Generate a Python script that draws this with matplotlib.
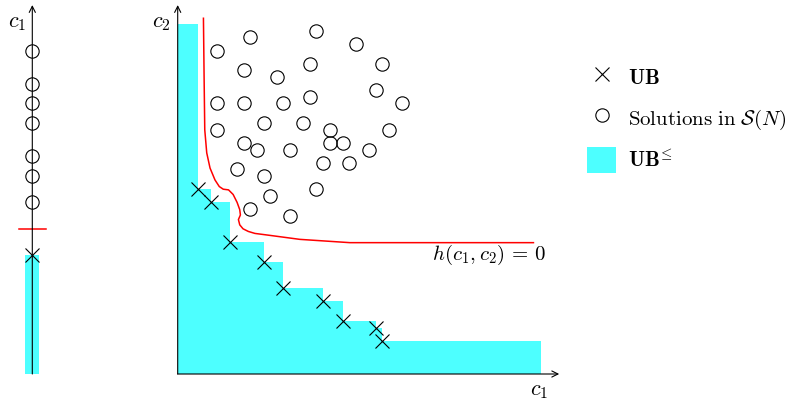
import matplotlib
matplotlib.use("Agg")
import matplotlib.pyplot as plt
from matplotlib.lines import Line2D
from matplotlib.patches import Patch

plt.rcParams.update({
    "mathtext.fontset": "cm",
    "font.family": "serif",
    "font.serif": ["DejaVu Serif"],
})

# ── data (diagram units) ─────────────────────────────────────────────────────
# solutions in S(N), 2-D view
sol_c1 = [6, 11, 21, 27, 10, 20, 31, 15, 30, 6, 10, 16, 20, 34, 13, 19,
          6, 23, 32, 10, 23, 25, 12, 17, 29, 22, 26, 9, 13, 21, 14, 11, 17]
sol_c2 = [49, 51, 52, 50, 46, 47, 47, 45, 43, 41, 41, 41, 42, 41, 38, 38,
          37, 37, 37, 35, 35, 35, 34, 34, 34, 32, 32, 31, 30, 28, 27, 25, 24]
# upper bound set UB
ub_c1 = [3, 5, 8, 13, 16, 22, 25, 30, 31]
ub_c2 = [28, 26, 20, 17, 13, 11, 8, 7, 5]
c1_end = 55
c2_end = 53
# level curve h(c1, c2) = 0
h_c1 = [3.9, 4.0, 4.1, 4.4, 4.9, 5.65, 6.3, 6.9, 7.7, 8.4, 9.0, 9.4, 9.5,
        9.2, 9.4, 9.9, 10.7, 11.7, 14.0, 18.5, 26.1, 31.2, 53.9]
h_c2 = [53.9, 45.0, 37.0, 33.5, 31.2, 29.4, 28.4, 28.0, 27.9, 27.2, 26.0,
        24.9, 24.1, 23.4, 22.6, 22.0, 21.6, 21.3, 21.0, 20.4, 19.9, 19.9, 19.9]
# 1-D view
line_sol = [49, 44, 41, 38, 33, 30, 26]
line_ub = 18
line_h = 22

# ── style ────────────────────────────────────────────────────────────────────
CYAN = "#4dffff"
RED = "#ff0000"
W, H = 791, 401
PX = 6.6                 # pixels per diagram unit
ORIG_Y = 374             # pixel row of c = 0

fig = plt.figure(figsize=(W / 100, H / 100), dpi=100)


def make_axes(left_px, right_px, origin_x):
    ax = fig.add_axes([left_px / W, 0, (right_px - left_px) / W, 1])
    ax.set_xlim((left_px - origin_x) / PX, (right_px - origin_x) / PX)
    ax.set_ylim((ORIG_Y - H) / PX, ORIG_Y / PX)
    ax.axis("off")
    return ax


ax_l = make_axes(0, 70, 32.3)
ax = make_axes(150, 570, 177.7)

arrow = dict(arrowstyle="->", lw=0.8, color="black", mutation_scale=11,
             shrinkA=0, shrinkB=0)
mk = dict(ls="none", color="black", mfc="none", ms=9.6, mew=0.8, clip_on=False)

# ── 1-D panel ────────────────────────────────────────────────────────────────
ax_l.fill_between([-1.06, 1.06], 0, line_ub, color=CYAN, lw=0)
ax_l.annotate("", xy=(0, 55.9), xytext=(0, 0), arrowprops=arrow)
ax_l.plot([-2.05, 2.05], [line_h, line_h], color=RED, lw=1.1)
ax_l.plot([0] * len(line_sol), line_sol, marker="o", **mk)
ax_l.plot([0], [line_ub], marker="x", **mk)
ax_l.text(-2.3, 53.4, r"$c_1$", fontsize=16, ha="center", va="center")

# ── 2-D panel ────────────────────────────────────────────────────────────────
xs = [0] + ub_c1 + [c1_end]
tops = [c2_end] + ub_c2 + [ub_c2[-1]]
ax.fill_between(xs, 0, tops, step="post", color=CYAN, lw=0)
ax.annotate("", xy=(57.8, 0), xytext=(0, 0), arrowprops=arrow)
ax.annotate("", xy=(0, 55.9), xytext=(0, 0), arrowprops=arrow)
ax.plot(h_c1, h_c2, color=RED, lw=1.1)
ax.plot(sol_c1, sol_c2, marker="o", **mk)
ax.plot(ub_c1, ub_c2, marker="x", **mk)
ax.text(-1.0, 53.3, r"$c_2$", fontsize=16, ha="right", va="center")
ax.text(54.8, -2.4, r"$c_1$", fontsize=16, ha="center", va="center")
ax.text(47.2, 18.0, r"$h(c_1,c_2)\,=\,0$", fontsize=15, ha="center", va="center")

# ── legend ───────────────────────────────────────────────────────────────────
handles = [
    Line2D([], [], marker="x", ls="none", color="black", ms=9.6, mew=0.8),
    Line2D([], [], marker="o", ls="none", color="black", mfc="none", ms=9.6, mew=0.8),
    Patch(facecolor=CYAN, edgecolor="none"),
]
labels = [r"$\mathbf{UB}$", r"$\mathrm{Solutions\ in\ }\mathcal{S}(N)$",
          r"$\mathbf{UB}^{\!\leq}$"]
fig.legend(handles, labels, loc="upper left", bbox_to_anchor=(587 / W, 1 - 64 / H),
           frameon=False, fontsize=15, handlelength=1.4, handleheight=1.55,
           labelspacing=0.72, handletextpad=0.55, borderpad=0, borderaxespad=0)

fig.savefig("out.png", dpi=100, facecolor="white")
